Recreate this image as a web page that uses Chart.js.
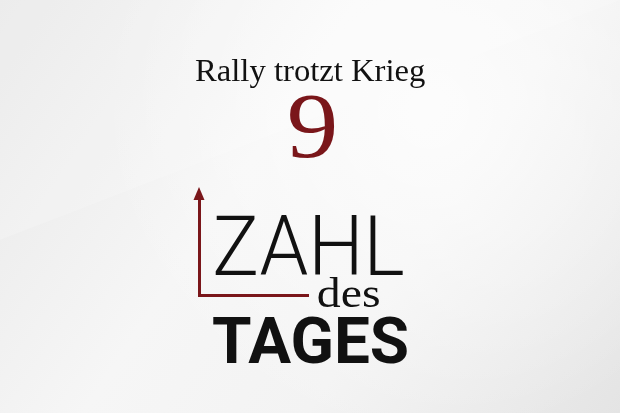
<!DOCTYPE html>
<html>
<head>
<meta charset="utf-8">
<script src="https://cdn.jsdelivr.net/npm/chart.js@4"></script>
<style>
  html, body { margin: 0; padding: 0; }
  #wrap { width: 620px; height: 413px; position: relative; }
</style>
</head>
<body>
<div id="wrap"><canvas id="zahlChart"></canvas></div>
<script>
// Content of the graphic
const headline = ['Rally trotzt Krieg'];
const numberOfDay = [9];
const brandWords = ['ZAHL', 'des', 'TAGES'];

const darkRed = '#7a161a';
const ink = '#111111';

// where each text sits (ink box: left, right, top of ref glyph, baseline)
const textLayout = [
  { text: () => headline[0], font: '"Liberation Serif", serif', weight: '400', ref: 'R', color: ink, left: 195, right: 425, top: 61, base: 81 },
  { text: () => String(numberOfDay[0]), font: '"Liberation Serif", serif', weight: '400', ref: '9', color: darkRed, left: 290, right: 335, top: 95, base: 157 },
  { text: () => brandWords[0], font: 'Roboto, Lato, sans-serif', weight: '300', ref: 'Z', color: ink, left: 215, right: 403, top: 215, base: 275 },
  { text: () => brandWords[1], font: '"Liberation Serif", serif', weight: '400', ref: 'd', color: ink, left: 318, right: 379, top: 278, base: 307 },
  { text: () => brandWords[2], font: 'Roboto, "DejaVu Sans", sans-serif', weight: '700', ref: 'T', color: ink, left: 213, right: 407, top: 316, base: 363 }
];

// draw a string so its ink fills the given box
function fitText(ctx, t) {
  const str = t.text();
  ctx.save();
  ctx.font = t.weight + ' 100px ' + t.font;
  const r = ctx.measureText(t.ref);
  const size = 100 * (t.base - t.top) / r.actualBoundingBoxAscent;
  ctx.font = t.weight + ' ' + size + 'px ' + t.font;
  const m = ctx.measureText(str);
  const w = m.actualBoundingBoxLeft + m.actualBoundingBoxRight;
  const sx = (t.right - t.left) / w;
  ctx.translate(t.left, t.base);
  ctx.scale(sx, 1);
  ctx.textAlign = 'left';
  ctx.textBaseline = 'alphabetic';
  ctx.fillStyle = t.color;
  ctx.fillText(str, m.actualBoundingBoxLeft, 0);
  ctx.restore();
}

const backdrop = {
  id: 'backdrop',
  beforeDraw(chart) {
    const ctx = chart.ctx;
    const w = chart.width, h = chart.height;
    ctx.save();
    let g = ctx.createLinearGradient(0, 0, w, h);
    g.addColorStop(0, '#e8e8e8');
    g.addColorStop(0.4, '#f6f6f6');
    g.addColorStop(0.65, '#f3f3f3');
    g.addColorStop(1, '#e4e4e4');
    ctx.fillStyle = g;
    ctx.fillRect(0, 0, w, h);
    const rg = ctx.createRadialGradient(430, 110, 10, 430, 110, 330);
    rg.addColorStop(0, 'rgba(255,255,255,0.75)');
    rg.addColorStop(1, 'rgba(255,255,255,0)');
    ctx.fillStyle = rg;
    ctx.fillRect(0, 0, w, h);
    // faint diagonal sheen
    ctx.beginPath();
    ctx.moveTo(0, 240);
    ctx.lineTo(w, 0);
    ctx.lineTo(0, 0);
    ctx.closePath();
    ctx.fillStyle = 'rgba(255,255,255,0.18)';
    ctx.fill();
    ctx.restore();
  }
};

const labelsAndArrow = {
  id: 'labelsAndArrow',
  afterDraw(chart) {
    const ctx = chart.ctx;
    const y = chart.scales.y;
    const x0 = y.right;
    const top = chart.chartArea.top;
    ctx.save();
    ctx.fillStyle = darkRed;
    ctx.beginPath();
    ctx.moveTo(x0 - 5.5, top + 1);
    ctx.lineTo(x0 + 5.5, top + 1);
    ctx.lineTo(x0, top - 12);
    ctx.closePath();
    ctx.fill();
    ctx.restore();
    textLayout.forEach(t => fitText(chart.ctx, t));
  }
};

const axisStyle = {
  display: true,
  grid: { display: false, drawTicks: false },
  ticks: { display: false },
  border: { display: true, color: darkRed, width: 3 }
};

new Chart(document.getElementById('zahlChart'), {
  type: 'line',
  data: { labels: [], datasets: [] },
  options: {
    responsive: true,
    maintainAspectRatio: false,
    animation: false,
    layout: { padding: { left: 199, top: 199, right: 312, bottom: 118 } },
    plugins: { legend: { display: false }, tooltip: { enabled: false }, title: { display: false } },
    scales: { x: axisStyle, y: axisStyle }
  },
  plugins: [backdrop, labelsAndArrow]
});
</script>
</body>
</html>
